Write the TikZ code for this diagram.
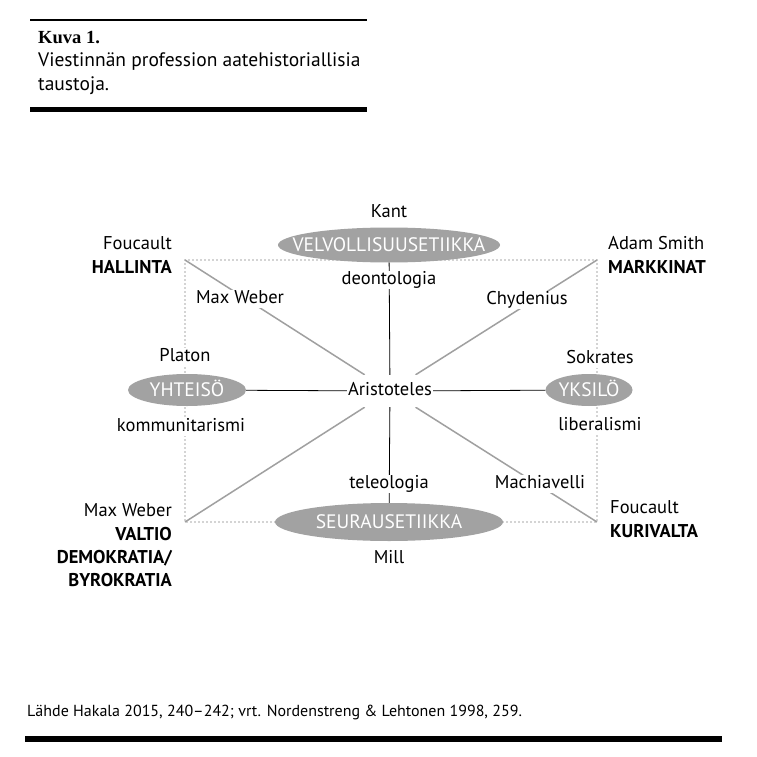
\documentclass[tikz,border=0pt]{standalone}
\usepackage{fontspec}
\setmainfont{PT Sans}
\newfontfamily\titleserif{Liberation Serif}
\usetikzlibrary{shapes.geometric}
\definecolor{ellgray}{HTML}{A2A2A2}
\definecolor{diaggray}{HTML}{A0A0A0}
\definecolor{dotgray}{HTML}{A8A8A8}
\begin{document}
\begin{tikzpicture}[x=1pt,y=-1pt,
  every node/.style={inner sep=1pt, text height=12pt, text depth=4pt, font=\fontsize{18.5}{20}\selectfont},
  ell/.style={ellipse, fill=ellgray, inner sep=0pt},
  elltext/.style={text=white, text height=13pt, text depth=0pt, font=\fontsize{19.5}{21}\selectfont},
  lbl/.style={fill=white, inner sep=1pt},
  diag/.style={draw=diaggray, line width=1.5pt},
  dots/.style={draw=dotgray, line width=1.8pt, dash pattern=on 0pt off 4pt, line cap=round},
  axis/.style={draw=black, line width=0.8pt},
  bold/.style={font=\fontsize{18.5}{20}\selectfont\bfseries}]
\useasboundingbox[fill=white] (0,0) rectangle (757,757);

% header
\coordinate (h1a) at (30,20); \coordinate (h1b) at (367,20);
\draw[line width=1.5pt] (h1a) -- (h1b);
\node[anchor=base west, font=\fontsize{18.5}{20}\titleserif\bfseries] (kuva) at (37,44) {Kuva 1.};
\node[anchor=base west, font=\fontsize{19.5}{21}\selectfont] (cap1) at (37,67) {Viestinnän profession aatehistoriallisia};
\node[anchor=base west, font=\fontsize{19.5}{21}\selectfont] (cap2) at (37,91) {taustoja.};
\coordinate (h2a) at (30,109.5); \coordinate (h2b) at (367,109.5);
\draw[line width=5pt] (h2a) -- (h2b);

% frame corners
\coordinate (TL) at (185,260);
\coordinate (TR) at (597,260);
\coordinate (BL) at (185,522);
\coordinate (BR) at (597,522);
\draw[dots] (TL) -- (TR) -- (BR) -- (BL) -- cycle;

% centre
\node[fill=white, inner xsep=1pt, minimum height=32pt] (ar) at (390,391) {Aristoteles};

% ellipses
\node[ell, minimum width=222pt, minimum height=35pt] (velv) at (389,245) {};
\node[ell, minimum width=228pt, minimum height=38pt] (seur) at (389,522) {};
\node[ell, minimum width=118pt, minimum height=32pt] (yht) at (187,390) {};
\node[ell, minimum width=87pt, minimum height=32pt] (yks) at (589,390) {};

% lines
\draw[diag] (TL) -- (ar);
\draw[diag] (TR) -- (ar);
\draw[diag] (BL) -- (ar);
\draw[diag] (BR) -- (ar);
\draw[axis] (velv) -- (ar);
\draw[axis] (ar) -- (seur);
\draw[axis] (yht) -- (ar);
\draw[axis] (ar) -- (yks);
\node[fill=white, inner xsep=1pt, minimum height=32pt] (ar2) at (ar) {Aristoteles};

% ellipse texts
\node[elltext] (velvT) at (velv) {VELVOLLISUUSETIIKKA};
\node[elltext] (seurT) at (seur) {SEURAUSETIIKKA};
\node[elltext] (yhtT) at (yht) {YHTEISÖ};
\node[elltext] (yksT) at (yks) {YKSILÖ};

% labels on lines
\node[lbl] (deon) at (389,280) {deontologia};
\node[lbl] (tele) at (389,484) {teleologia};
\node[lbl] (mw1) at (240,299) {Max Weber};
\node[lbl] (chy) at (527,300) {Chydenius};
\node[lbl] (mach) at (540,484) {Machiavelli};
\node[lbl] (plat) at (185,357) {Platon};
\node[lbl] (komm) at (181,427) {kommunitarismi};
\node[lbl] (sok) at (600,359) {Sokrates};
\node[lbl] (lib) at (600,426) {liberalismi};
\node (kant) at (389,213) {Kant};
\node (mill) at (389,559) {Mill};

% corner labels
\node[anchor=base east] (fou1) at (173,249) {Foucault};
\node[anchor=base east, bold] (hal) at (173,273) {HALLINTA};
\node[anchor=base west] (adam) at (607,249) {Adam Smith};
\node[anchor=base west, bold] (mark) at (607,273) {MARKKINAT};
\node[anchor=base east] (mw2) at (173,516) {Max Weber};
\node[anchor=base east, bold] (val) at (173,540) {VALTIO};
\node[anchor=base east, bold] (dem) at (173,563) {DEMOKRATIA/};
\node[anchor=base east, bold] (byr) at (173,586) {BYROKRATIA};
\node[anchor=base west] (fou2) at (609,513) {Foucault};
\node[anchor=base west, bold] (kur) at (609,537) {KURIVALTA};

% footer
\node[anchor=base west, font=\fontsize{16}{18}\selectfont] (src) at (26,716) {Lähde Hakala 2015, 240–242; vrt. Nordenstreng \& Lehtonen 1998, 259.};
\coordinate (fa) at (25,739); \coordinate (fb) at (722,739);
\draw[line width=5.5pt] (fa) -- (fb);
\end{tikzpicture}
\end{document}
